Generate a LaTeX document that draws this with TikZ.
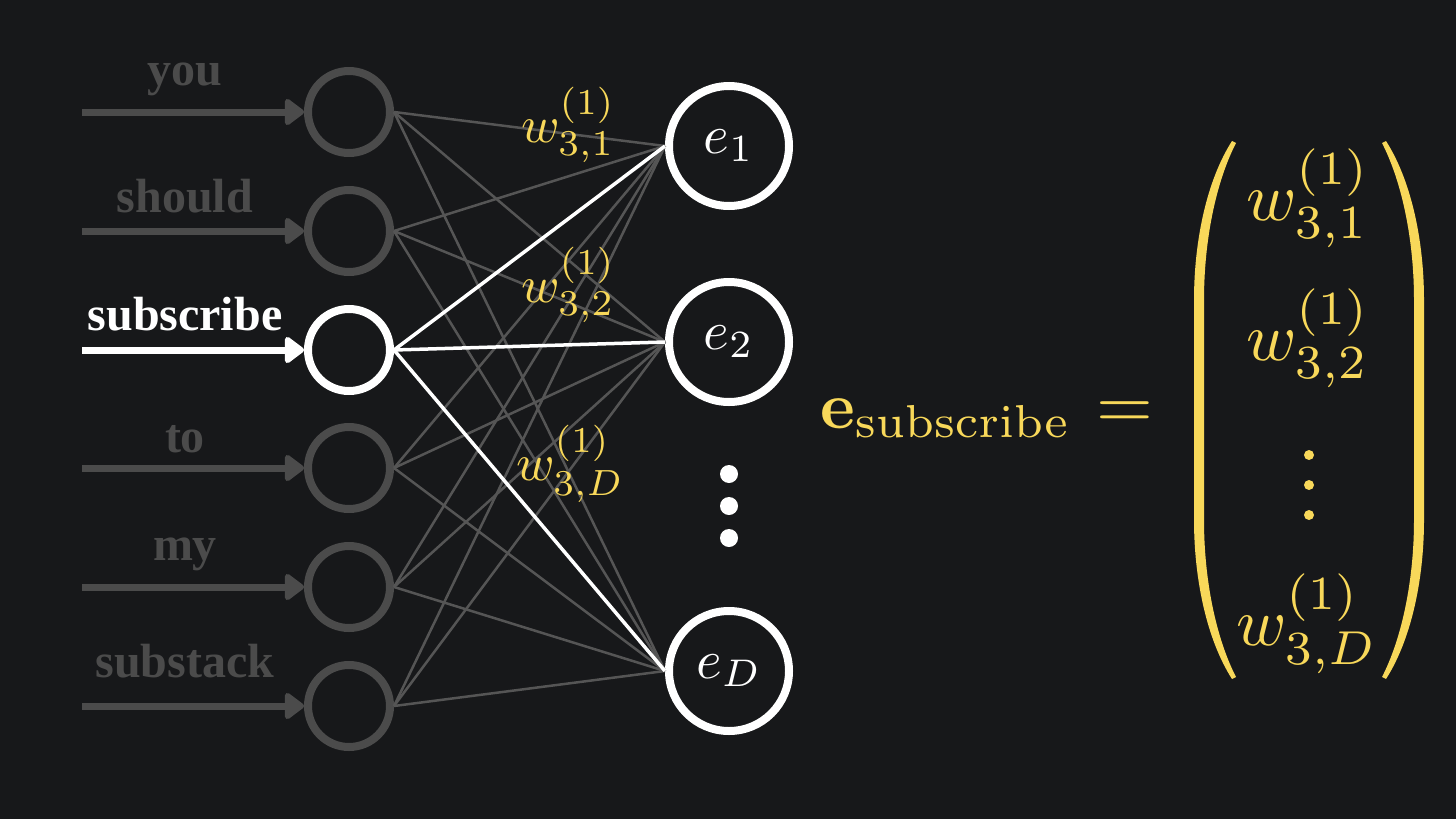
\documentclass[tikz,border=0pt]{standalone}
\usepackage[no-math]{fontspec}
\usepackage{graphicx}
\newfontfamily\wordfont{Liberation Serif}
\usetikzlibrary{arrows.meta}
\definecolor{bg}{HTML}{17181A}
\definecolor{dim}{HTML}{4B4B4B}
\definecolor{edgegray}{HTML}{555555}
\definecolor{gold}{HTML}{F8D85A}
\newcommand{\scaledmath}[2]{\scalebox{#1}{\fontsize{10}{12}\selectfont$#2$}}
\begin{document}
\begin{tikzpicture}[x=1pt,y=-1pt,
  innode/.style={circle,draw=dim,line width=8pt,minimum size=82pt,inner sep=0pt,fill=bg},
  hotnode/.style={innode,draw=white},
  outnode/.style={circle,draw=white,line width=8pt,minimum size=120pt,inner sep=0pt,fill=bg,text=white},
  word/.style={anchor=base,inner sep=0pt,text=dim,font=\wordfont\bfseries\fontsize{48}{50}\selectfont},
  hotword/.style={word,text=white},
  inarrow/.style={draw=dim,line width=7pt,-{Triangle[length=21pt,width=30pt,round]}},
  hotarrow/.style={inarrow,draw=white},
  edge/.style={draw=edgegray,line width=2.5pt},
  hotedge/.style={draw=white,line width=3.5pt},
  gtext/.style={anchor=base west,inner sep=0pt,text=gold},
  bigdot/.style={circle,fill=white,inner sep=0pt,minimum size=18pt},
  smalldot/.style={circle,fill=gold,inner sep=0pt,minimum size=10pt}
]
\useasboundingbox (0,0) rectangle (1456,819);
\fill[bg] (0,0) rectangle (1456,819);

% input nodes
\node[innode] (in1) at (349,112) {};
\node[innode] (in2) at (349,231) {};
\node[hotnode] (in3) at (349,350) {};
\node[innode] (in4) at (349,468) {};
\node[innode] (in5) at (349,587) {};
\node[innode] (in6) at (349,706) {};

% output nodes
\node[outnode] (out1) at (729,146) {\scaledmath{5.5}{e_1}};
\node[outnode] (out2) at (729,342) {\scaledmath{5.5}{e_2}};
\node[outnode] (outD) at (729,671) {\scaledmath{5.5}{e_D}};
\node[bigdot] (d1) at (729,474) {};
\node[bigdot] (d2) at (729,506) {};
\node[bigdot] (d3) at (729,538) {};

% edges
\foreach \i in {1,2,4,5,6}{
  \foreach \j in {1,2,D}{
    \draw[edge] (in\i.east) -- (out\j.west);
  }
}
\foreach \j in {1,2,D}{
  \draw[hotedge] (in3.east) -- (out\j.west);
}

% arrows and words
\coordinate (s1) at (82,112);
\coordinate (s2) at (82,231);
\coordinate (s3) at (82,350);
\coordinate (s4) at (82,468);
\coordinate (s5) at (82,587);
\coordinate (s6) at (82,706);
\draw[inarrow] (s1) -- (in1.west);
\draw[inarrow] (s2) -- (in2.west);
\draw[hotarrow] (s3) -- (in3.west);
\draw[inarrow] (s4) -- (in4.west);
\draw[inarrow] (s5) -- (in5.west);
\draw[inarrow] (s6) -- (in6.west);
\node[word] (w1) at (185,85) {you};
\node[word] (w2) at (185,212) {should};
\node[hotword] (w3) at (185,330) {subscribe};
\node[word] (w4) at (185,452) {to};
\node[word] (w5) at (185,560) {my};
\node[word] (w6) at (185,677) {substack};

% weight labels
\node[gtext] (l1) at (521,142) {\scaledmath{5.2}{w^{(1)}_{3,1}}};
\node[gtext] (l2) at (521,302) {\scaledmath{5.2}{w^{(1)}_{3,2}}};
\node[gtext] (l3) at (516,480) {\scaledmath{5.2}{w^{(1)}_{3,D}}};

% equation
\node[gtext] (esub) at (820,428) {\scaledmath{6.6}{\mathbf{e}_{\mathrm{subscribe}}}};
\node[gtext] (eqs) at (1096,428) {\scaledmath{7.3}{=}};
\fill[gold] (1232,141) .. controls (1207,180) and (1194,240) .. (1194,300) -- (1194,520)
  .. controls (1194,580) and (1207,640) .. (1232,679) -- (1236,677)
  .. controls (1216,638) and (1204,580) .. (1204,520) -- (1204,300)
  .. controls (1204,240) and (1216,182) .. (1236,143) -- cycle;
\fill[gold] (1386,141) .. controls (1411,180) and (1424,240) .. (1424,300) -- (1424,520)
  .. controls (1424,580) and (1411,640) .. (1386,679) -- (1382,677)
  .. controls (1402,638) and (1414,580) .. (1414,520) -- (1414,300)
  .. controls (1414,240) and (1402,182) .. (1382,143) -- cycle;
\node[gtext] (m1) at (1246,220) {\scaledmath{6.8}{w^{(1)}_{3,1}}};
\node[gtext] (m2) at (1246,360) {\scaledmath{6.8}{w^{(1)}_{3,2}}};
\node[smalldot] (v1) at (1309,455) {};
\node[smalldot] (v2) at (1309,485) {};
\node[smalldot] (v3) at (1309,515) {};
\node[gtext] (m3) at (1236,645) {\scaledmath{6.8}{w^{(1)}_{3,D}}};
\end{tikzpicture}
\end{document}
